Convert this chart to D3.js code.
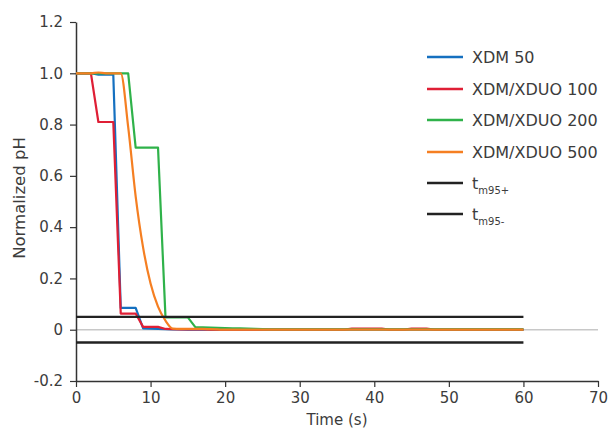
<!DOCTYPE html>
<html>
<head>
<meta charset="utf-8">
<script src="https://cdn.jsdelivr.net/npm/d3@7"></script>
<style>
  html, body { margin: 0; padding: 0; background: #fff; }
  svg text { font-family: "DejaVu Sans", "Noto Sans", sans-serif; fill: #3c3c3c; }
</style>
</head>
<body>
<svg id="chart" width="610" height="433"></svg>
<script>
// Sampling times (s)
const time = d3.range(0, 61);

// Normalized pH response per column type, one value per second
const xdm50 = [1, 1, 1, 0.995, 0.995, 0.995, 0.085, 0.085, 0.085, 0.005,
  0.004, 0.003, 0.002, 0.001, 0.001, 0, 0, 0, 0, 0,
  0, 0, 0, 0, 0, 0, 0, 0, 0, 0,
  0, 0, 0, 0, 0, 0, 0, 0, 0, 0,
  0, 0, 0, 0, 0, 0, 0, 0, 0, 0,
  0, 0, 0, 0, 0, 0, 0, 0, 0, 0, 0];
const xduo100 = [1, 1, 1, 0.81, 0.81, 0.81, 0.063, 0.063, 0.063, 0.011,
  0.011, 0.011, 0.003, 0.002, 0.001, 0.001, 0.001, 0.001, 0, 0,
  0, 0, 0, 0, 0, 0, 0, 0, 0, 0,
  0, 0, 0, 0, 0, 0, 0, 0.004, 0.004, 0.004,
  0.004, 0.004, 0, 0, 0, 0.004, 0.004, 0.004, 0, 0,
  0, 0, 0, 0, 0, 0, 0, 0, 0, 0, 0];
const xduo200 = [1, 1, 1, 1, 1, 1, 1, 1, 0.71, 0.71,
  0.71, 0.71, 0.048, 0.048, 0.048, 0.048, 0.01, 0.009, 0.008, 0.007,
  0.006, 0.005, 0.005, 0.004, 0.003, 0.002, 0.001, 0.001, 0.001, 0.001,
  0.001, 0.001, 0.001, 0.001, 0.001, 0.001, 0.001, 0.001, 0.001, 0.001,
  0.001, 0.001, 0.001, 0.001, 0.001, 0.001, 0.001, 0.001, 0.001, 0.001,
  0.001, 0.001, 0.001, 0.001, 0.001, 0.001, 0.001, 0.001, 0.001, 0.001, 0.001];
const xduo500 = [1, 1, 1, 1.003, 1, 1, 1, 0.79, 0.52, 0.32,
  0.18, 0.09, 0.035, 0.004, 0.003, 0.003, 0.003, 0.003, 0.002, 0.001,
  0, 0, 0, 0, 0, 0, 0, 0, 0, 0,
  0, 0, 0, 0, 0, 0, 0, 0, 0, 0,
  0, 0, 0, 0, 0, 0, 0, 0, 0, 0,
  0, 0, 0, 0, 0, 0, 0, 0, 0, 0, 0];

// Mixing-time thresholds (±5 %) drawn over the run
const thresholdTimes = [0, 60];
const tm95Plus = [0.05, 0.05];
const tm95Minus = [-0.05, -0.05];

const xTicks = [0, 10, 20, 30, 40, 50, 60, 70];
const yTicks = [-0.2, 0, 0.2, 0.4, 0.6, 0.8, 1.0, 1.2];
const yTickLabels = ["-0.2", "0", "0.2", "0.4", "0.6", "0.8", "1.0", "1.2"];

const series = [
  { name: "XDM 50", values: xdm50, color: "#1570c0", curve: d3.curveLinear },
  { name: "XDM/XDUO 100", values: xduo100, color: "#df1f35", curve: d3.curveLinear },
  { name: "XDM/XDUO 200", values: xduo200, color: "#2fb24a", curve: d3.curveLinear },
  { name: "XDM/XDUO 500", values: xduo500, color: "#f57f22", curve: d3.curveMonotoneX }
];

const svg = d3.select("#chart");
const x = d3.scaleLinear().domain([0, 70]).range([76, 598]);
const y = d3.scaleLinear().domain([-0.2, 1.2]).range([381, 22]);

// zero reference line
svg.append("line")
  .attr("x1", x(0)).attr("x2", x(70))
  .attr("y1", y(0)).attr("y2", y(0))
  .attr("stroke", "#c8c8c8").attr("stroke-width", 1.5);

// axes
const xAxis = svg.append("g")
  .attr("transform", `translate(0,${y(-0.2)})`)
  .call(d3.axisBottom(x).tickValues(xTicks).tickSize(6).tickPadding(5).tickSizeOuter(0));
const yAxis = svg.append("g")
  .attr("transform", `translate(${x(0)},0)`)
  .call(d3.axisLeft(y).tickValues(yTicks).tickFormat((d, i) => yTickLabels[i]).tickSize(6).tickPadding(7).tickSizeOuter(0));
[xAxis, yAxis].forEach(g => {
  g.select(".domain").attr("stroke", "#333").attr("stroke-width", 1.5);
  g.selectAll(".tick line").attr("stroke", "#333").attr("stroke-width", 1.2);
  g.selectAll(".tick text")
    .style("font-family", "'DejaVu Sans', sans-serif")
    .style("font-size", "15px").style("fill", "#3c3c3c");
});

// response curves
series.forEach(s => {
  const line = d3.line().curve(s.curve).x((d, i) => x(time[i])).y(d => y(d));
  svg.append("path")
    .datum(s.values)
    .attr("fill", "none")
    .attr("stroke", s.color)
    .attr("stroke-width", 2.2)
    .attr("stroke-linejoin", "round")
    .attr("d", line);
});

// threshold lines
[tm95Plus, tm95Minus].forEach(vals => {
  const line = d3.line().x((d, i) => x(thresholdTimes[i])).y(d => y(d));
  svg.append("path")
    .datum(vals)
    .attr("fill", "none")
    .attr("stroke", "#222")
    .attr("stroke-width", 2.4)
    .attr("d", line);
});

// axis titles
svg.append("text")
  .attr("x", 337).attr("y", 425)
  .attr("text-anchor", "middle")
  .style("font-size", "15px")
  .text("Time (s)");
svg.append("text")
  .attr("transform", "translate(25,198) rotate(-90)")
  .attr("text-anchor", "middle")
  .style("font-size", "16.5px")
  .text("Normalized pH");

// legend
const legendItems = [
  ...series.map(s => ({ name: s.name, color: s.color })),
  { name: "t", sub: "m95+", color: "#222" },
  { name: "t", sub: "m95-", color: "#222" }
];
const legendRows = [57, 89, 120, 152, 183, 214];
legendItems.forEach((item, i) => {
  const g = svg.append("g").attr("transform", `translate(0,${legendRows[i]})`);
  g.append("line")
    .attr("x1", 427).attr("x2", 463)
    .attr("stroke", item.color).attr("stroke-width", 2.4);
  const t = g.append("text")
    .attr("x", 472).attr("y", 6)
    .style("font-size", "16px")
    .text(item.name);
  if (item.sub) {
    t.append("tspan")
      .attr("dy", 5)
      .style("font-size", "10px")
      .text(item.sub);
  }
});
</script>
</body>
</html>
